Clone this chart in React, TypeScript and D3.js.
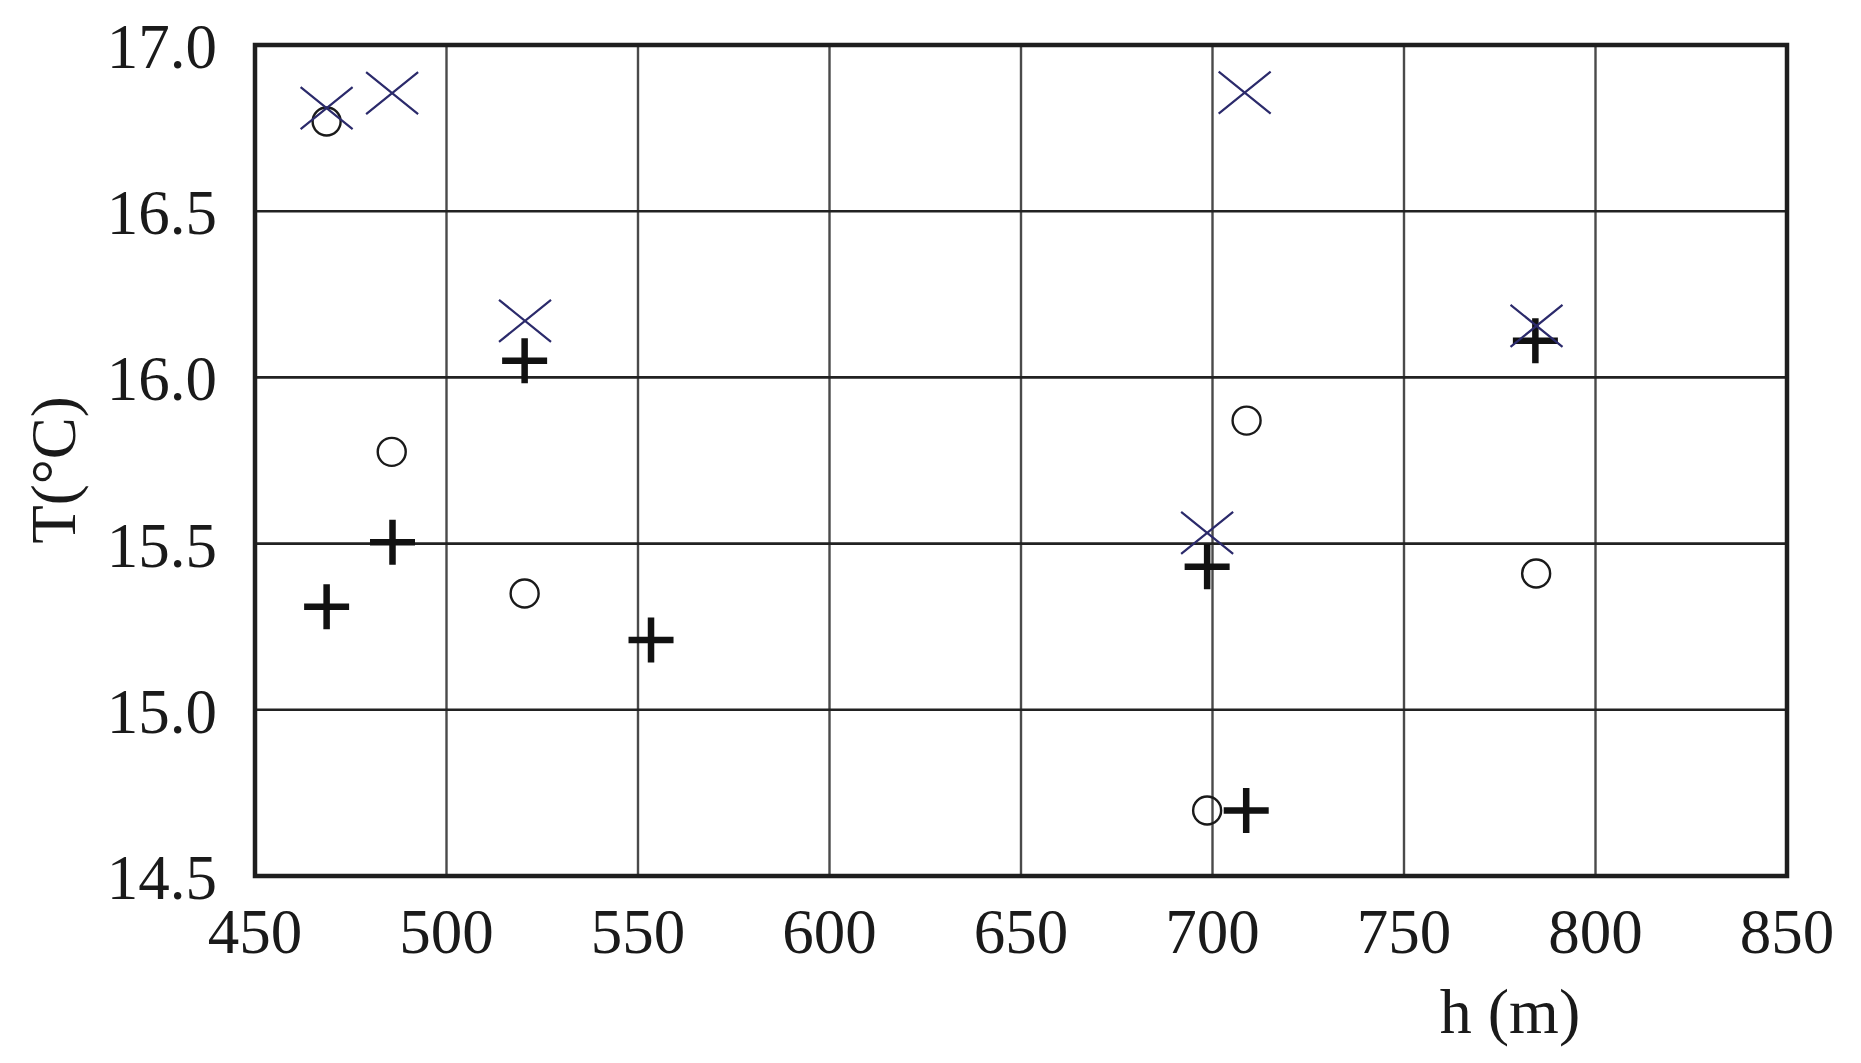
import React from "react";
import * as d3 from "d3";

// Data
const xTicks = [450, 500, 550, 600, 650, 700, 750, 800, 850];
const yTicks = [14.5, 15.0, 15.5, 16.0, 16.5, 17.0];

const crossH = [468.7, 485.8, 520.5, 698.6, 708.4, 784.6];
const crossT = [16.81, 16.855, 16.17, 15.532, 16.857, 16.155];

const plusH = [468.7, 485.9, 520.4, 553.4, 698.6, 708.8, 784.3];
const plusT = [15.31, 15.504, 16.05, 15.21, 15.43, 14.697, 16.11];

const circleH = [468.7, 485.7, 520.4, 698.6, 708.9, 784.5];
const circleT = [16.77, 15.776, 15.35, 14.697, 15.87, 15.41];

const W = 1861;
const H = 1063;
const M = { left: 255, right: 1787, top: 45, bottom: 876 };
const FONT = "'Liberation Serif', 'Times New Roman', serif";

export default function App() {
  const x = d3.scaleLinear().domain([450, 850]).range([M.left, M.right]);
  const y = d3.scaleLinear().domain([14.5, 17.0]).range([M.bottom, M.top]);
  const fmt = d3.format(".1f");

  const crossPts = crossH.map((h, i) => [x(h), y(crossT[i])]);
  const plusPts = plusH.map((h, i) => [x(h), y(plusT[i])]);
  const circPts = circleH.map((h, i) => [x(h), y(circleT[i])]);

  return (
    <svg
      width={W}
      height={H}
      style={{ position: "absolute", left: 0, top: 0, background: "#fff" }}
    >
      {/* grid */}
      {xTicks.slice(1, -1).map((t) => (
        <line key={"gx" + t} x1={x(t)} x2={x(t)} y1={M.top} y2={M.bottom} stroke="#4a4a4a" strokeWidth={2.4} />
      ))}
      {yTicks.slice(1, -1).map((t) => (
        <line key={"gy" + t} x1={M.left} x2={M.right} y1={y(t)} y2={y(t)} stroke="#222" strokeWidth={2.6} />
      ))}
      {/* frame */}
      <rect x={M.left} y={M.top} width={M.right - M.left} height={M.bottom - M.top} fill="none" stroke="#1e1e1e" strokeWidth={4.5} />

      {/* y tick labels */}
      {yTicks.map((t) => (
        <text key={"ty" + t} x={217} y={y(t) + 23} textAnchor="end" fontFamily={FONT} fontSize={63} fill="#1a1a1a">
          {fmt(t)}
        </text>
      ))}
      {/* x tick labels */}
      {xTicks.map((t) => (
        <text key={"tx" + t} x={x(t)} y={953} textAnchor="middle" fontFamily={FONT} fontSize={63} fill="#1a1a1a">
          {t}
        </text>
      ))}
      {/* axis titles */}
      <text x={1510} y={1033} textAnchor="middle" fontFamily={FONT} fontSize={64} fill="#1a1a1a">
        h (m)
      </text>
      <text transform="translate(75,470) rotate(-90)" textAnchor="middle" fontFamily={FONT} fontSize={63} fill="#1a1a1a">
        T(°C)
      </text>

      {/* circles */}
      {circPts.map(([cx, cy], i) => (
        <circle key={"c" + i} cx={cx} cy={cy} r={14} fill="none" stroke="#1a1a1a" strokeWidth={2.4} />
      ))}
      {/* plus markers */}
      {plusPts.map(([cx, cy], i) => (
        <path key={"p" + i} d={`M${cx - 22.5},${cy}H${cx + 22.5}M${cx},${cy - 22.5}V${cy + 22.5}`} stroke="#111" strokeWidth={6.5} fill="none" />
      ))}
      {/* x markers */}
      {crossPts.map(([cx, cy], i) => (
        <path key={"x" + i} d={`M${cx - 26},${cy - 21}L${cx + 26},${cy + 21}M${cx + 26},${cy - 21}L${cx - 26},${cy + 21}`} stroke="#2b2a6b" strokeWidth={2.2} fill="none" />
      ))}
    </svg>
  );
}
